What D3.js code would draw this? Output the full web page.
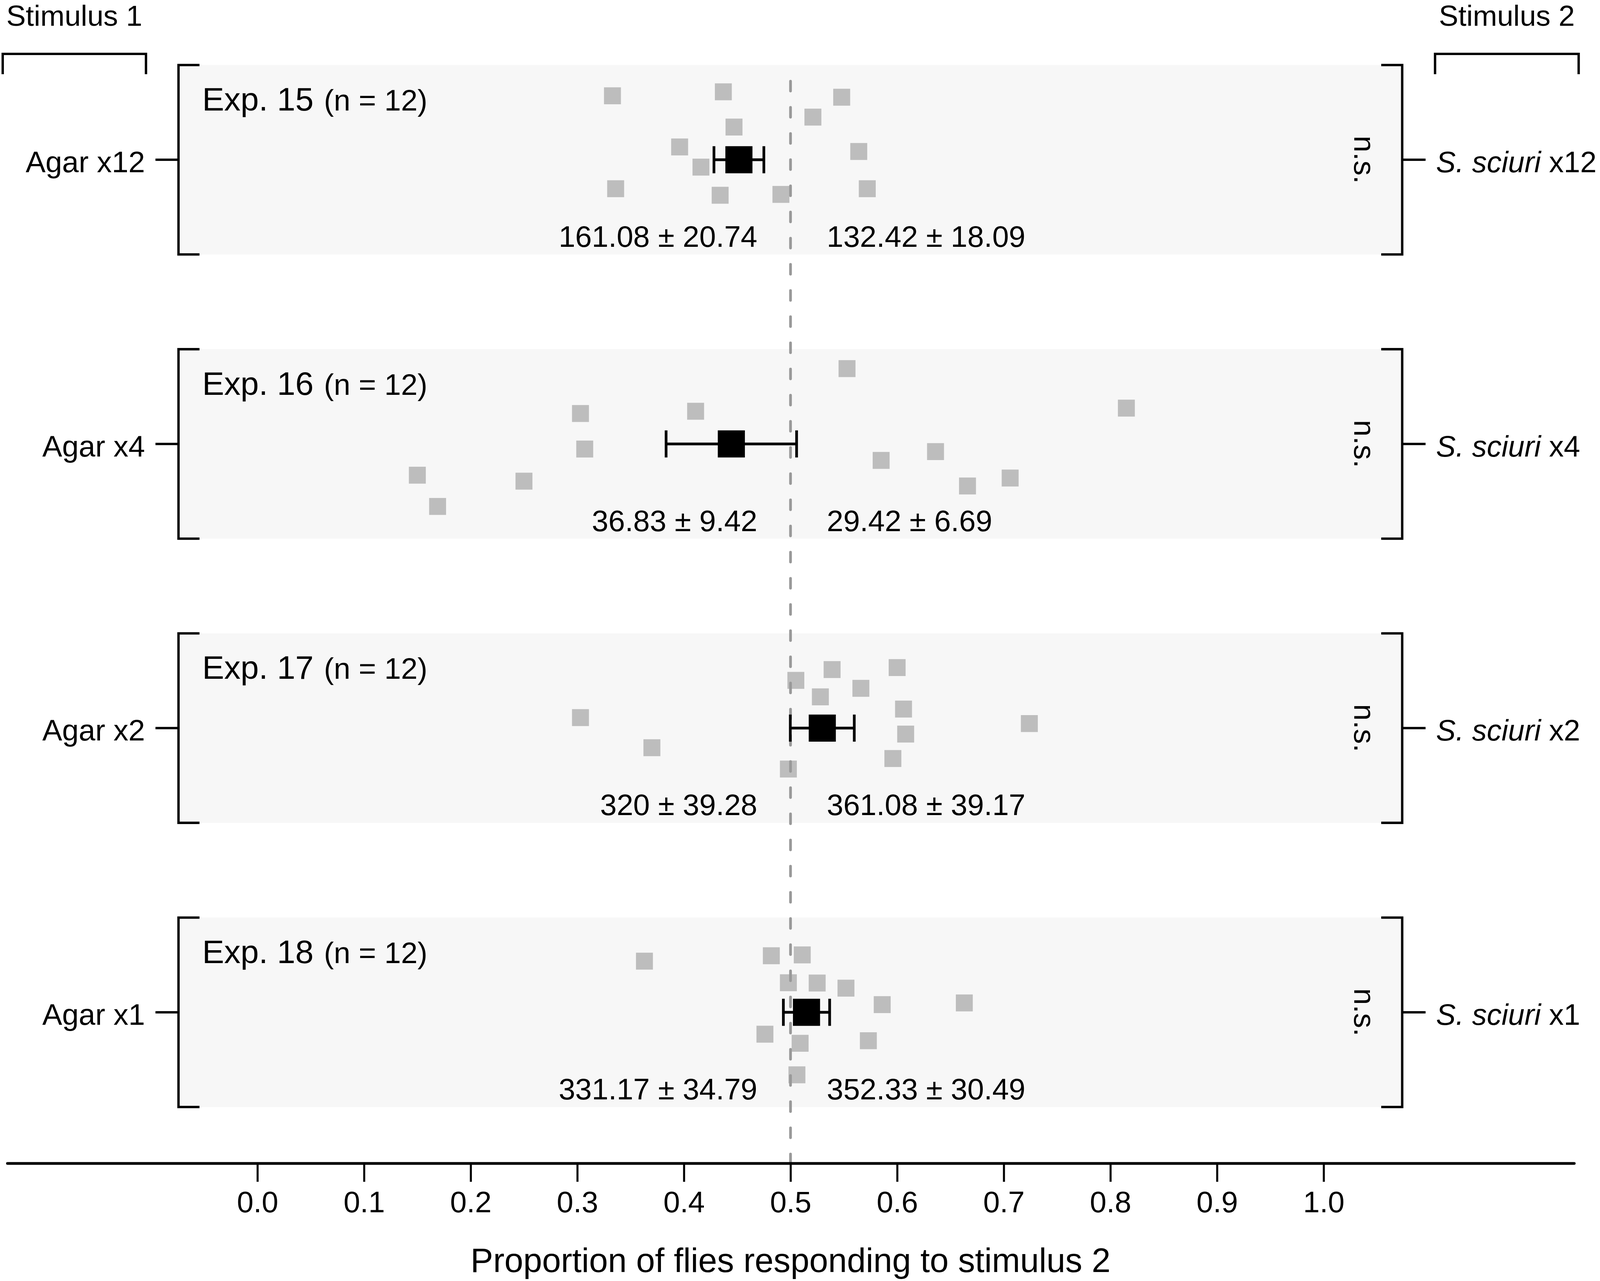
<!DOCTYPE html>
<html>
<head>
<meta charset="utf-8">
<script src="https://cdn.jsdelivr.net/npm/d3@7"></script>
<style>
  html, body { margin: 0; padding: 0; background: #ffffff; overflow: hidden; width: 100%; height: 100%; }
  svg { display: block; }
  text { font-family: "Liberation Sans", Arial, Helvetica, sans-serif; fill: #000; }
</style>
</head>
<body>
<script>
// ---------------- data ----------------
const experiments = ["Exp. 15", "Exp. 16", "Exp. 17", "Exp. 18"];
const nFlies = [12, 12, 12, 12];
const stimulus1Labels = ["Agar x12", "Agar x4", "Agar x2", "Agar x1"];
const stimulus2Species = ["S. sciuri", "S. sciuri", "S. sciuri", "S. sciuri"];
const stimulus2Doses = ["x12", "x4", "x2", "x1"];
const significance = ["n.s.", "n.s.", "n.s.", "n.s."];

const count1Mean = ["161.08", "36.83", "320", "331.17"];
const count1SE   = ["20.74", "9.42", "39.28", "34.79"];
const count2Mean = ["132.42", "29.42", "361.08", "352.33"];
const count2SE   = ["18.09", "6.69", "39.17", "30.49"];

const meanProportion = [0.4516, 0.4445, 0.5298, 0.5150];
const seProportion   = [0.0234, 0.0612, 0.0300, 0.0217];

const exp15Props  = [0.333, 0.437, 0.548, 0.521, 0.447, 0.396, 0.416, 0.564, 0.336, 0.434, 0.491, 0.572];
const exp15Jitter = [-0.225, -0.239, -0.220, -0.150, -0.115, -0.045, 0.026, -0.029, 0.102, 0.125, 0.122, 0.102];
const exp16Props  = [0.553, 0.303, 0.411, 0.815, 0.307, 0.585, 0.636, 0.150, 0.250, 0.706, 0.666, 0.169];
const exp16Jitter = [-0.265, -0.107, -0.115, -0.126, 0.018, 0.058, 0.027, 0.110, 0.131, 0.120, 0.148, 0.220];
const exp17Props  = [0.505, 0.539, 0.600, 0.566, 0.528, 0.606, 0.303, 0.724, 0.608, 0.370, 0.596, 0.498];
const exp17Jitter = [-0.168, -0.206, -0.213, -0.140, -0.110, -0.067, -0.037, -0.016, 0.021, 0.069, 0.107, 0.144];
const exp18Props  = [0.363, 0.482, 0.511, 0.498, 0.525, 0.552, 0.586, 0.663, 0.476, 0.509, 0.573, 0.506];
const exp18Jitter = [-0.180, -0.199, -0.202, -0.104, -0.103, -0.085, -0.027, -0.033, 0.077, 0.109, 0.100, 0.220];

const xTicks = [0.0, 0.1, 0.2, 0.3, 0.4, 0.5, 0.6, 0.7, 0.8, 0.9, 1.0];
const xTitle = "Proportion of flies responding to stimulus 2";
const referenceLine = 0.5;

const allProps = [exp15Props, exp16Props, exp17Props, exp18Props];
const allJitter = [exp15Jitter, exp16Jitter, exp17Jitter, exp18Jitter];

// ---------------- layout (designed on a 4724 x 3280 frame, fitted to the real viewport) ----------------
const W0 = 4724, H0 = 3280;
const W = window.innerWidth || document.documentElement.clientWidth || W0;
const H = window.innerHeight || document.documentElement.clientHeight || H0;
const sx = W / W0, sy = H / H0, s = Math.min(sx, sy);
const X = v => v * sx, Y = v => v * sy, S = v => v * s;

const FONT = S(88);
const x = d3.scaleLinear().domain([0, 1]).range([X(760), X(3908)]);
const y = d3.scaleLinear().domain([0, 3]).range([Y(409), Y(2592)]);
const panelHalf = 1 / 3;
const panelLeft = X(527), panelRight = X(4140);
const axisY = Y(2979);

const svg = d3.select("body").append("svg")
  .attr("width", W).attr("height", H);

const rows = experiments.map((e, i) => ({
  i, name: e, n: nFlies[i],
  s1: stimulus1Labels[i], sp: stimulus2Species[i], dose: stimulus2Doses[i],
  sig: significance[i],
  c1: count1Mean[i], c1se: count1SE[i], c2: count2Mean[i], c2se: count2SE[i],
  mean: meanProportion[i], se: seProportion[i],
  pts: allProps[i].map((p, k) => ({ p, j: allJitter[i][k] }))
}));

// panel backgrounds
svg.append("g").selectAll("rect").data(rows).join("rect")
  .attr("x", panelLeft)
  .attr("y", d => y(d.i - panelHalf))
  .attr("width", panelRight - panelLeft)
  .attr("height", d => y(d.i + panelHalf) - y(d.i - panelHalf))
  .attr("fill", "#f7f7f7");

// brackets
const br = svg.append("g").attr("stroke", "#000").attr("fill", "none")
  .attr("stroke-linecap", "butt");
const LW = S(7);
rows.forEach(d => {
  const t = y(d.i - panelHalf), b = y(d.i + panelHalf), c = y(d.i);
  br.append("path").attr("stroke-width", LW)
    .attr("d", `M${panelLeft + X(62)},${t} H${panelLeft} V${b} H${panelLeft + X(62)}`);
  br.append("line").attr("stroke-width", LW)
    .attr("x1", panelLeft - X(68)).attr("x2", panelLeft).attr("y1", c).attr("y2", c);
  br.append("path").attr("stroke-width", LW)
    .attr("d", `M${panelRight - X(62)},${t} H${panelRight} V${b} H${panelRight - X(62)}`);
  br.append("line").attr("stroke-width", LW)
    .attr("x1", panelRight).attr("x2", panelRight + X(69)).attr("y1", c).attr("y2", c);
});

// stimulus brackets on top
const topBr = [
  { label: "Stimulus 1", x0: X(8), x1: X(431) },
  { label: "Stimulus 2", x0: X(4237), x1: X(4661) }
];
topBr.forEach(t => {
  br.append("path").attr("stroke-width", LW)
    .attr("d", `M${t.x0},${Y(190)} V${Y(138)} H${t.x1} V${Y(190)}`);
  svg.append("text").attr("x", (t.x0 + t.x1) / 2).attr("y", Y(66))
    .attr("text-anchor", "middle").attr("font-size", S(86)).text(t.label);
});

// individual points
const SQ = S(50);
svg.append("g").selectAll("g").data(rows).join("g")
  .selectAll("rect").data(d => d.pts.map(p => ({ ...p, i: d.i }))).join("rect")
  .attr("x", d => x(d.p) - SQ / 2)
  .attr("y", d => y(d.i + d.j) - SQ / 2)
  .attr("width", SQ).attr("height", SQ)
  .attr("fill", "#bdbdbd");

// dashed reference line
svg.append("line")
  .attr("x1", x(referenceLine)).attr("x2", x(referenceLine))
  .attr("y1", Y(208)).attr("y2", axisY)
  .attr("stroke", "#999999").attr("stroke-width", S(8))
  .attr("stroke-linecap", "round")
  .attr("stroke-dasharray", `${Y(25)} ${Y(42)}`);

// error bars and mean squares
const eb = svg.append("g").attr("stroke", "#000").attr("fill", "none");
const CAP = S(40), MS = S(80), EW = S(8);
rows.forEach(d => {
  const c = y(d.i), l = x(d.mean - d.se), r = x(d.mean + d.se);
  eb.append("line").attr("x1", l).attr("x2", r).attr("y1", c).attr("y2", c).attr("stroke-width", EW);
  eb.append("line").attr("x1", l).attr("x2", l).attr("y1", c - CAP).attr("y2", c + CAP).attr("stroke-width", EW);
  eb.append("line").attr("x1", r).attr("x2", r).attr("y1", c - CAP).attr("y2", c + CAP).attr("stroke-width", EW);
});
svg.append("g").selectAll("rect").data(rows).join("rect")
  .attr("x", d => x(d.mean) - MS / 2)
  .attr("y", d => y(d.i) - MS / 2)
  .attr("width", MS).attr("height", MS)
  .attr("fill", "#000");

// texts
const tg = svg.append("g");
rows.forEach(d => {
  const c = y(d.i);
  const t = tg.append("text").attr("x", X(597)).attr("y", c - Y(126)).attr("font-size", S(97));
  t.append("tspan").text(d.name);
  t.append("tspan").attr("font-size", FONT).attr("dx", S(6)).text(` (n = ${d.n})`);

  tg.append("text").attr("x", X(2236)).attr("y", c + Y(223)).attr("text-anchor", "end")
    .attr("font-size", FONT).text(`${d.c1} ± ${d.c1se}`);
  tg.append("text").attr("x", X(2441)).attr("y", c + Y(223)).attr("text-anchor", "start")
    .attr("font-size", FONT).text(`${d.c2} ± ${d.c2se}`);

  tg.append("text").attr("x", X(428)).attr("y", c + Y(32)).attr("text-anchor", "end")
    .attr("font-size", S(88)).text(d.s1);
  const r = tg.append("text").attr("x", X(4240)).attr("y", c + Y(32)).attr("font-size", S(87));
  r.append("tspan").attr("font-style", "italic").text(d.sp);
  r.append("tspan").text(" " + d.dose);

  tg.append("text")
    .attr("transform", `translate(${X(3999)},${c}) rotate(90)`)
    .attr("text-anchor", "middle").attr("font-size", FONT).text(d.sig);
});

// x axis
const axis = d3.axisBottom(x).tickValues(xTicks).tickFormat(d3.format(".1f"))
  .tickSize(Y(47)).tickSizeOuter(0).tickPadding(Y(24));
const ax = svg.append("g").attr("transform", `translate(0,${axisY})`).call(axis);
ax.select(".domain").remove();
ax.selectAll(".tick line").attr("stroke", "#000").attr("stroke-width", S(6));
ax.selectAll(".tick text").attr("font-size", FONT)
  .attr("font-family", "'Liberation Sans', Arial, sans-serif").attr("fill", "#000");
svg.append("line").attr("x1", X(22)).attr("x2", X(4648)).attr("y1", axisY).attr("y2", axisY)
  .attr("stroke", "#000").attr("stroke-width", S(8)).attr("stroke-linecap", "round");

svg.append("text").attr("x", x(0.5)).attr("y", Y(3257)).attr("text-anchor", "middle")
  .attr("font-size", S(100)).text(xTitle);
</script>
</body>
</html>
